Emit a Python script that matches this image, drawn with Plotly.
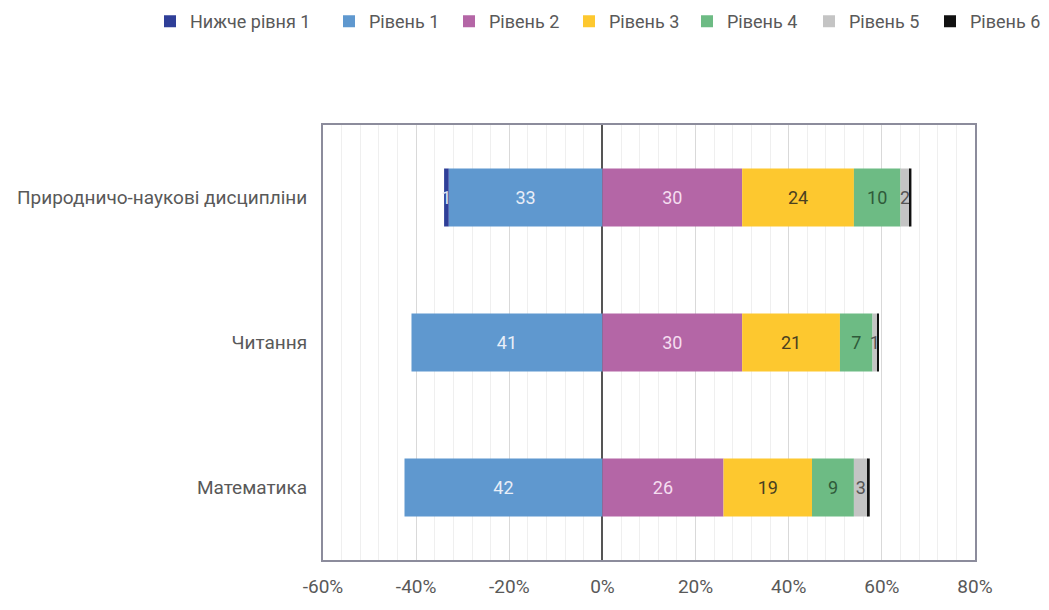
import plotly.graph_objects as go

categories = ["Природничо-наукові дисципліни", "Читання", "Математика"]
series_names = ["Нижче рівня 1", "Рівень 1", "Рівень 2", "Рівень 3", "Рівень 4", "Рівень 5", "Рівень 6"]
below1 = [-1, 0, 0]
level1 = [-33, -41, -42.5]
level2 = [30, 30, 26]
level3 = [24, 21, 19]
level4 = [10, 7, 9]
level5 = [2, 1, 3]
level6 = [0.35, 0.35, 0.4]
labels_below1 = ["1", "", ""]
labels_level1 = ["33", "41", "42"]
labels_level2 = ["30", "30", "26"]
labels_level3 = ["24", "21", "19"]
labels_level4 = ["10", "7", "9"]
labels_level5 = ["2", "1", "3"]
labels_level6 = ["", "", ""]
tick_vals = [-60, -40, -20, 0, 20, 40, 60, 80]
tick_text = ["-60%", "-40%", "-20%", "0%", "20%", "40%", "60%", "80%"]

colors = ["#2F3F98", "#5F98CF", "#B466A6", "#FDC82F", "#6DBB84", "#C4C4C4", "#111111"]
text_colors = ["#DDE6F5", "#E8EEF8", "#F5DDF0", "#4A4020", "#2F5A3A", "#555555", "#000000"]
values = [below1, level1, level2, level3, level4, level5, level6]
texts = [labels_below1, labels_level1, labels_level2, labels_level3, labels_level4, labels_level5, labels_level6]

# left edge (px) of each legend entry along the top row
legend_left_px = [150, 329, 449, 569, 687, 809, 930]

FONT = "Liberation Sans Narrow, Roboto, sans-serif"
W, H = 1049, 610

# Negative bars stack outward from zero in trace order, so draw "Рівень 1" before "Нижче рівня 1".
draw_order = [1, 0, 2, 3, 4, 5, 6]

fig = go.Figure()
for i in draw_order:
    fig.add_trace(go.Bar(
        y=categories, x=values[i], name=series_names[i], orientation="h",
        marker=dict(color=colors[i], line=dict(width=0)),
        text=texts[i], textposition="inside", insidetextanchor="middle",
        constraintext="none",
        textfont=dict(family=FONT, size=18, color=text_colors[i]),
        width=0.4,
        legend="legend" if i == 0 else f"legend{i + 1}",
    ))

layout_legends = {}
for i, px in enumerate(legend_left_px):
    key = "legend" if i == 0 else f"legend{i + 1}"
    layout_legends[key] = dict(
        orientation="h", x=px / W, xanchor="left", y=0.995, yanchor="top",
        xref="container", yref="container", itemwidth=30,
        font=dict(family=FONT, size=18, color="#595959"),
        bgcolor="rgba(0,0,0,0)",
    )

fig.update_layout(
    barmode="relative",
    width=W, height=H,
    margin=dict(l=323, r=74, t=125, b=50),
    paper_bgcolor="white", plot_bgcolor="white",
    font=dict(family=FONT, color="#595959", size=18),
    showlegend=True,
    **layout_legends,
)
fig.update_xaxes(
    range=[-60, 80], tickvals=tick_vals, ticktext=tick_text,
    showgrid=True, gridcolor="#D9D9D9", gridwidth=1,
    minor=dict(dtick=4, showgrid=True, gridcolor="#EFEFEF", gridwidth=1, tick0=0),
    zeroline=True, zerolinecolor="#555555", zerolinewidth=1.5,
    showline=True, linecolor="#8C8C9C", linewidth=2, mirror=True,
    tickfont=dict(family=FONT, size=19, color="#595959"),
    ticks="", ticklabelstandoff=8,
)
fig.update_yaxes(
    autorange="reversed", categoryorder="array", categoryarray=categories,
    showline=True, linecolor="#8C8C9C", linewidth=2, mirror=True,
    showgrid=False, ticks="",
    tickfont=dict(family=FONT, size=19, color="#595959"),
    ticklabelstandoff=10,
)

fig.write_html("out.html")
